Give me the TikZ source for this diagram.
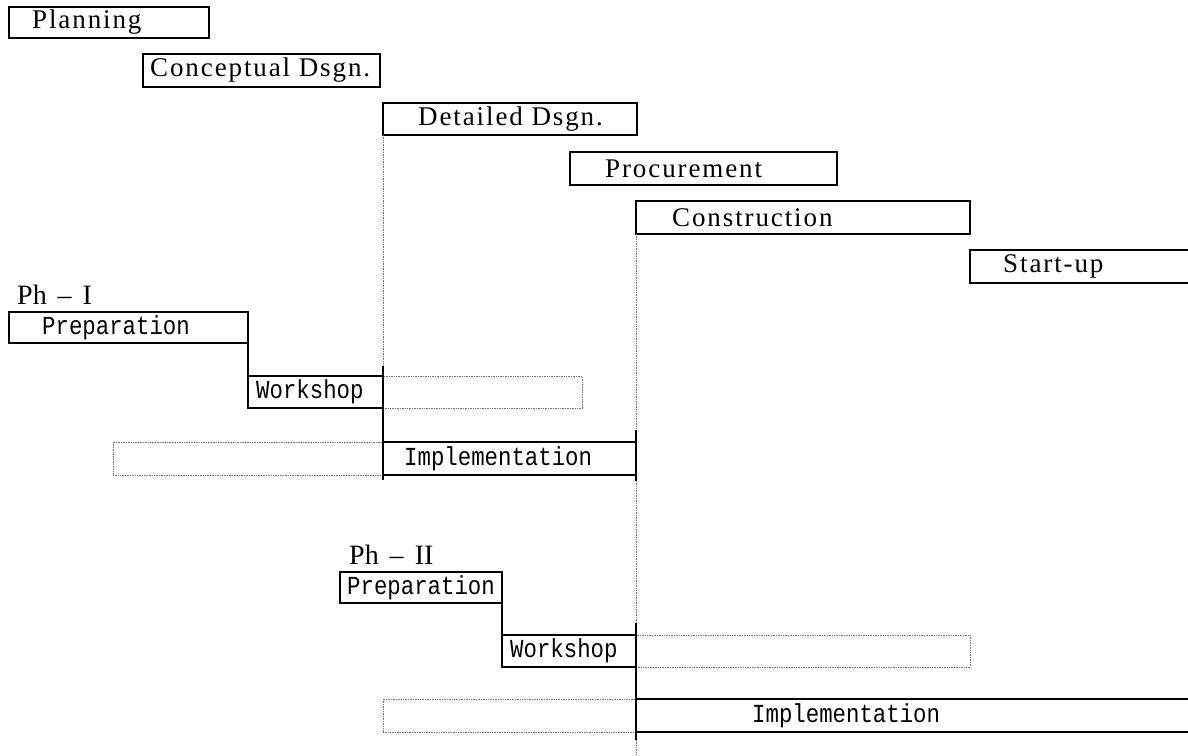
\documentclass[tikz,border=0pt]{standalone}
\usepackage{fontspec}
\setmainfont{Liberation Serif}
\newfontfamily\stagefont[LetterSpace=7]{Liberation Serif}
\newfontfamily\taskfont[FakeStretch=0.86]{Liberation Mono}
\usetikzlibrary{positioning}

\tikzset{
  bar/.style={draw, line width=1.6pt, anchor=north west, inner sep=0pt, outer sep=0pt},
  ghost/.style={draw=black!55, densely dotted, line width=0.7pt, anchor=north west, inner sep=0pt, outer sep=0pt},
  barline/.style={line width=1.6pt},
  ghostline/.style={black!55, densely dotted, line width=0.7pt},
  stage/.style={font=\fontsize{27}{30}\selectfont\stagefont, inner sep=0pt},
  task/.style={font=\fontsize{26}{28}\selectfont\taskfont, inner sep=0pt},
  phase/.style={font=\fontsize{28}{30}\selectfont\rmfamily, inner sep=0pt}
}
\newcommand{\phgap}{\hspace{11pt}}

\begin{document}
\begin{tikzpicture}[x=1pt, y=-1pt]
\useasboundingbox (0,0) rectangle (1188,755);
\node[bar, minimum width=200pt, minimum height=31pt] (plan) at (9,7) {};
\node[stage, right=23pt of plan.west] {Planning};
\node[bar, minimum width=237pt, minimum height=33pt] (concept) at (143,54) {};
\node[stage, right=7pt of concept.west] {Conceptual Dsgn.};
\node[bar, minimum width=254pt, minimum height=32pt] (detail) at (383,103) {};
\node[stage, right=35pt of detail.west] {Detailed Dsgn.};
\node[bar, minimum width=267pt, minimum height=33pt] (procure) at (570,152) {};
\node[stage, right=35pt of procure.west] {Procurement};
\node[bar, minimum width=334pt, minimum height=33pt] (constr) at (636,201) {};
\node[stage, right=36pt of constr.west] {Construction};
\node[bar, draw=none, minimum width=218pt, minimum height=33pt] (startup) at (970,250) {};
\draw[barline] (startup.north east) -- (startup.north west) -- (startup.south west) -- (startup.south east);
\node[stage, right=33pt of startup.west] {Start-up};

\node[bar, minimum width=239pt, minimum height=31pt] (prepI) at (9,312) {};
\node[task, right=33pt of prepI.west] {Preparation};
\node[phase, above right=7pt and 8pt of prepI.north west] {Ph\phgap–\phgap I};
\node[bar, minimum width=135pt, minimum height=32pt] (wsI) at (248,376) {};
\node[task, right=8pt of wsI.west] {Workshop};
\node[ghost, minimum width=199pt, minimum height=32pt] (wsIext) at (383,376) {};
\node[ghost, minimum width=270pt, minimum height=33pt] (implIpre) at (113,442) {};
\node[bar, minimum width=253pt, minimum height=33pt] (implI) at (383,442) {};
\node[task, right=21pt of implI.west] {Implementation};
\draw[barline] (prepI.south east) -- (wsI.north west);

\node[bar, minimum width=162pt, minimum height=31pt] (prepII) at (340,572) {};
\node[task, right=7pt of prepII.west] {Preparation};
\node[phase, above right=7pt and 9pt of prepII.north west] {Ph\phgap–\phgap II};
\node[bar, minimum width=134pt, minimum height=32pt] (wsII) at (502,635) {};
\node[task, right=8pt of wsII.west] {Workshop};
\node[ghost, minimum width=334pt, minimum height=32pt] (wsIIext) at (636,635) {};
\node[ghost, minimum width=253pt, minimum height=33pt] (implIIpre) at (383,699) {};
\node[bar, draw=none, minimum width=552pt, minimum height=33pt] (implII) at (636,699) {};
\draw[barline] (implII.north east) -- (implII.north west) (implII.south west) -- (implII.south east);
\node[task, right=116pt of implII.west] {Implementation};
\draw[barline] (prepII.south east) -- (wsII.north west);

\coordinate (bottom) at (636,755);
\draw[ghostline] (detail.south west) -- ([yshift=10pt]wsI.north east);
\draw[barline] ([yshift=10pt]wsI.north east) -- ([yshift=-5pt]implI.south west);
\draw[ghostline] (constr.south west) -- ([yshift=12pt]implI.north east);
\draw[barline] ([yshift=12pt]implI.north east) -- ([yshift=-6pt]implI.south east);
\draw[ghostline] ([yshift=-6pt]implI.south east) -- ([yshift=12pt]wsII.north east);
\draw[barline] ([yshift=12pt]wsII.north east) -- ([yshift=-8pt]implII.south west);
\draw[ghostline] ([yshift=-8pt]implII.south west) -- (bottom);
\end{tikzpicture}
\end{document}
